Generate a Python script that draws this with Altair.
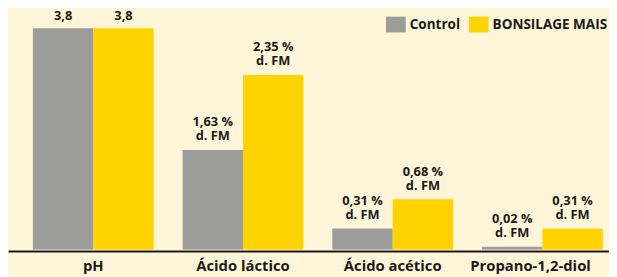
import altair as alt
import pandas as pd

categories = ["pH", "Ácido láctico", "Ácido acético", "Propano-1,2-diol"]
series = ["Control", "BONSILAGE MAIS"]
# bar heights as drawn in the picture (pH-scale units; the original is not to scale)
control_height = [3.8, 1.71, 0.36, 0.05]
bonsilage_height = [3.8, 3.0, 0.864, 0.356]
control_labels = ["3,8", "1,63 %\nd. FM", "0,31 %\nd. FM", "0,02 %\nd. FM"]
bonsilage_labels = ["3,8", "2,35 %\nd. FM", "0,68 %\nd. FM", "0,31 %\nd. FM"]

GRAY = "#9C9C9B"
YELLOW = "#FFD300"
BG = "#FFF6D9"
TXT = "#1A1A1A"
FONT = "Open Sans"

rows = []
for i, c in enumerate(categories):
    rows.append({"cat": c, "series": series[0], "h": control_height[i], "label": control_labels[i]})
    rows.append({"cat": c, "series": series[1], "h": bonsilage_height[i], "label": bonsilage_labels[i]})
df = pd.DataFrame(rows)
df["nlines"] = df["label"].str.count("\n") + 1
df_one = df[df["nlines"] == 1]
df_two = df[df["nlines"] == 2]

x = alt.X(
    "cat:N",
    sort=categories,
    scale=alt.Scale(paddingInner=0.193, paddingOuter=0.104, align=0.8),
    axis=alt.Axis(
        title=None,
        ticks=False,
        domainColor=TXT,
        domainWidth=2,
        offset=1.5,
        labelAngle=0,
        labelFont=FONT,
        labelFontSize=15,
        labelFontWeight="bold",
        labelColor=TXT,
        labelBaseline="alphabetic",
        labelPadding=20,
        labelOffset={"condition": {"test": "datum.value === 'Propano-1,2-diol'", "value": -12}, "value": 0},
    ),
)
xo = alt.XOffset("series:N", sort=series, scale=alt.Scale(paddingInner=0, paddingOuter=0))
y = alt.Y("h:Q", scale=alt.Scale(domain=[0, 4], nice=False, zero=True), axis=None)

bars = alt.Chart(df).mark_bar(opacity=1).encode(
    x=x,
    xOffset=xo,
    y=y,
    color=alt.Color(
        "series:N",
        sort=series,
        scale=alt.Scale(domain=series, range=[GRAY, YELLOW]),
        legend=alt.Legend(
            title=None,
            orient="none",
            legendX=383,
            legendY=-2,
            direction="horizontal",
            symbolType="M-1,-0.8H1V0.8H-1Z",
            symbolSize=400,
            symbolStrokeWidth=0,
            symbolOpacity=1,
            labelFont=FONT,
            labelFontSize=13.7,
            labelFontWeight="bold",
            labelColor=TXT,
            labelOffset=4,
            labelLimit=300,
            columnPadding=8,
            padding=0,
        ),
    ),
)

text_style = dict(
    align="center",
    baseline="alphabetic",
    lineBreak="\n",
    lineHeight=14.3,
    font=FONT,
    fontSize=13,
    fontWeight="bold",
    color=TXT,
)

texts_one = alt.Chart(df_one).mark_text(dy=-8, **text_style).encode(
    x=x, xOffset=xo, y=y, text="label:N"
)
texts_two = alt.Chart(df_two).mark_text(dy=-24, **text_style).encode(
    x=x, xOffset=xo, y=y, text="label:N"
)

chart = (
    alt.layer(bars, texts_one, texts_two)
    .properties(
        width=609,
        height=236,
        padding={"left": 0, "top": 7, "right": 0, "bottom": 26},
        autosize=alt.AutoSizeParams(type="none"),
        background=BG,
    )
    .configure_view(strokeOpacity=0)
)

chart.save("out.html", embed_options={"renderer": "svg", "actions": False})
